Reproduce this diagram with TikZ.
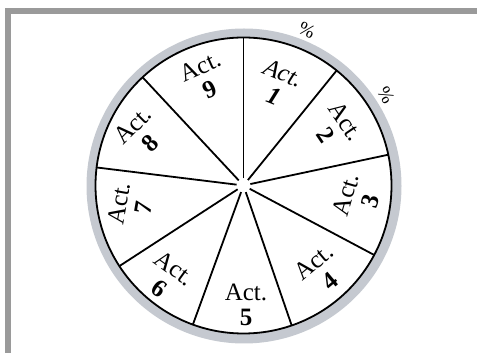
\documentclass[tikz,border=0pt]{standalone}
\usepackage{fontspec}
\setmainfont{Liberation Serif}
\usetikzlibrary{calc}
\definecolor{framegray}{HTML}{9A9A9A}
\definecolor{rimgray}{HTML}{C5C9D0}
\tikzset{
  lab/.style={align=center, inner sep=0pt, font=\fontsize{25}{25}\selectfont},
  pct/.style={inner sep=0pt, font=\fontsize{19}{19}\selectfont},
  spoke/.style={line width=1.8pt, black},
}
\begin{document}
\begin{tikzpicture}[x=1pt,y=1pt]
\useasboundingbox (0,0) rectangle (477,353);
% frame
\fill[framegray] (5,339) rectangle (477,344.7);
\fill[framegray] (5,0) rectangle (11,344.7);
% wheel
\coordinate (c) at (243.5,167.5);
\fill[rimgray] (244,167) circle (157.5);
\draw[spoke, fill=white] (c) circle (148);
\foreach \a in {90,51,12,-28,-71,-110,-147,173,133}{
  \draw[spoke] ($(c)+(\a:7)$) -- ($(c)+(\a:148)$);
}
% labels
\node[lab, rotate=-22, font=\fontsize{25}{25}\selectfont\itshape] (l1) at (278.5,268.5) {Act.\\\textbf{1}};
\node[lab, rotate=-56] (l2) at (336,225) {Act.\\\textbf{2}};
\node[lab, rotate=74] (l3) at (358,155) {Act.\\\textbf{3}};
\node[lab, rotate=40] (l4) at (321.5,81.5) {Act.\\\textbf{4}};
\node[lab, rotate=0] (l5) at (246,48) {Act.\\\textbf{5}};
\node[lab, rotate=-36] (l6) at (167,75) {Act.\\\textbf{6}};
\node[lab, rotate=80] (l7) at (131,147.5) {Act.\\\textbf{7}};
\node[lab, rotate=45] (l8) at (141.5,219) {Act.\\\textbf{8}};
\node[lab, rotate=24] (l9) at (205,275) {Act.\\\textbf{9}};
% percent marks
\node[pct, rotate=-25] (p1) at (307,323) {\%};
\node[pct, rotate=-60] (p2) at (386,258) {\%};
\end{tikzpicture}
\end{document}
